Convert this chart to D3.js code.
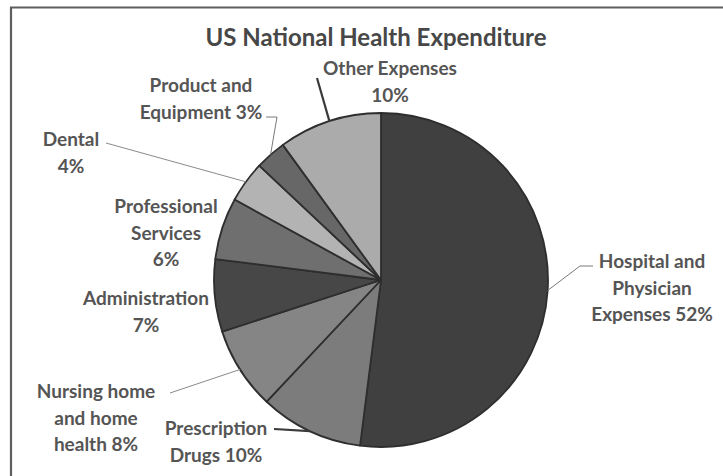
<!DOCTYPE html>
<html><head><meta charset="utf-8">
<script src="https://cdn.jsdelivr.net/npm/d3@7"></script>
<style>body{margin:0;background:#fff}svg{display:block}</style>
</head><body>
<svg id="c" width="723" height="476"></svg>
<script>
const categories = ["Hospital and Physician Expenses","Prescription Drugs","Nursing home and home health","Administration","Professional Services","Dental","Product and Equipment","Other Expenses"];
const values = [52,10,8,7,6,4,3,10];
const labelLines = [
  ["Hospital and","Physician","Expenses 52%"],
  ["Prescription","Drugs 10%"],
  ["Nursing home","and home","health 8%"],
  ["Administration","7%"],
  ["Professional","Services","6%"],
  ["Dental","4%"],
  ["Product and","Equipment 3%"],
  ["Other Expenses","10%"]
];
const fills = ["#404040","#7c7c7c","#858585","#474747","#6f6f6f","#b3b3b3","#676767","#ababab"];
const title = "US National Health Expenditure";

// layout (positions kept out of data arrays)
const cx = 381, cy = 280, R = 167;
const labelPos = [
  {x:652, y:268}, {x:216, y:435}, {x:96, y:398}, {x:146, y:305},
  {x:166, y:213}, {x:71, y:146}, {x:201, y:92}, {x:390, y:75}
];
const leaders = [
  {pts:[[593,266],[580,266]], w:1, c:"#7a7a7a"},
  {pts:[[274,429]], w:2.2, c:"#3a3a3a"},
  {pts:[[170,393]], w:1, c:"#8a8a8a"},
  null, null,
  {pts:[[106,143]], w:1, c:"#8a8a8a"},
  {pts:[[266,117],[277,117]], w:1, c:"#7a7a7a"},
  {pts:[[317,78]], w:2.2, c:"#3a3a3a"}
];

const svg = d3.select("#c");
svg.append("rect").attr("width",723).attr("height",476).attr("fill","#fff");
// frame
svg.append("path").attr("d","M11,476 V7.5 H723").attr("fill","none").attr("stroke","#5e5e5e").attr("stroke-width",2.2);

svg.append("text").attr("x",376).attr("y",46).attr("text-anchor","middle")
  .attr("font-family","Lato, 'Open Sans', sans-serif").attr("font-weight","bold")
  .attr("font-size",24).attr("fill","#474747").text(title);

const pie = d3.pie().sort(null).value(d=>d);
const arcs = pie(values);
const arc = d3.arc().innerRadius(0).outerRadius(R);
const g = svg.append("g").attr("transform",`translate(${cx},${cy})`);
g.selectAll("path").data(arcs).join("path")
  .attr("d",arc).attr("fill",(d,i)=>fills[i])
  .attr("stroke","#2e2e2e").attr("stroke-width",1.8).attr("stroke-linejoin","round");

// leader lines
const edge = d3.arc().innerRadius(R).outerRadius(R);
arcs.forEach((a,i)=>{
  const L = leaders[i]; if(!L) return;
  const c = edge.centroid(a);
  const p = [cx+c[0], cy+c[1]];
  const pts = L.pts.concat([p]);
  svg.append("path").attr("d", d3.line()(pts)).attr("fill","none")
    .attr("stroke",L.c).attr("stroke-width",L.w);
});

// labels
arcs.forEach((a,i)=>{
  const t = svg.append("text").attr("text-anchor","middle")
    .attr("font-family","Lato, 'Open Sans', sans-serif").attr("font-weight","bold")
    .attr("font-size",19).attr("fill","#555555");
  labelLines[i].forEach((s,k)=>{
    t.append("tspan").attr("x",labelPos[i].x).attr("y",labelPos[i].y + k*26.5).text(s);
  });
});
</script>
</body></html>
